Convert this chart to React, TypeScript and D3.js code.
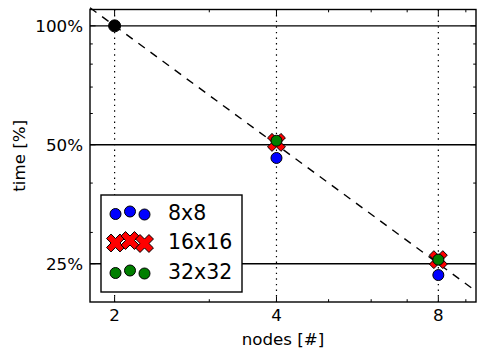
import React from 'react';
import * as d3 from 'd3';

// measured values (time relative to 2 nodes)
const nodes = [4, 8];
const time8x8 = [46.3, 23.4];
const time16x16 = [50.7, 25.6];
const time32x32 = [51.2, 25.6];
const seriesNames = ['8x8', '16x16', '32x32'];
const seriesColors = ['#0000ff', '#ff0000', '#007f00'];

const baseNodes = [2];
const baseTime = [100];

// ideal scaling line endpoints
const idealNodes = [1.8, 9.4];
const idealTime = [111.1, 21.3];

const xTicks = [2, 4, 8];
const xMinorTicks = [3, 5, 6, 7, 9];
const yTicks = [25, 50, 100];
const yTickLabels = ['25%', '50%', '100%'];
const yMinorTicks = [30, 40, 60, 70, 80, 90];

const W = 486;
const H = 360;
const plot = { left: 90, right: 476, top: 9.5, bottom: 302 };
const font = 'DejaVu Sans, sans-serif';

const x = d3.scaleLog().base(2).domain([1.8, 9.4]).range([plot.left, plot.right]);
const y = d3.scaleLog().domain([20, 110]).range([plot.bottom, plot.top]);

// filled "X" marker, like matplotlib's 'X'
function xMarker(s: number) {
  const a = s / 3;
  const pts = [[-a, -s], [a, -s], [a, -a], [s, -a], [s, a], [a, a], [a, s], [-a, s], [-a, a], [-s, a], [-s, -a], [-a, -a]];
  const c = Math.SQRT1_2;
  const rot = pts.map(([px, py]) => [(px - py) * c, (px + py) * c] as [number, number]);
  return d3.line()(rot) + 'Z';
}

function Marker({ kind, cx, cy }: { kind: number; cx: number; cy: number }) {
  if (kind === 1) {
    return <path d={xMarker(9.5)} transform={`translate(${cx},${cy})`} fill={seriesColors[1]} stroke="#000" strokeWidth={1} />;
  }
  return <circle cx={cx} cy={cy} r={5.5} fill={seriesColors[kind]} stroke="#000" strokeWidth={1} />;
}

export default function App() {
  const series = [time8x8, time16x16, time32x32];
  const ideal = d3.line<number>().x((d, i) => x(idealNodes[i])).y(d => y(d))(idealTime) as string;

  const legend = { x: 101, y: 195, w: 141, h: 97 };
  const legendRows = [213, 242, 272];
  const legendMarkerX = [115.5, 130, 144.5];
  const legendYOffsets = [1, -1.5, 1.5];

  return (
    <svg width={W} height={H} style={{ position: 'absolute', left: 0, top: 0, background: '#fff' }} fontFamily={font}>
      <rect x={0} y={0} width={W} height={H} fill="#fff" />

      {/* grid */}
      {xTicks.map(t => (
        <line key={'gx' + t} x1={x(t)} x2={x(t)} y1={plot.top} y2={plot.bottom} stroke="#000" strokeWidth={1.2} strokeDasharray="1.4,4.2" />
      ))}
      {yTicks.map(t => (
        <line key={'gy' + t} x1={plot.left} x2={plot.right} y1={y(t)} y2={y(t)} stroke="#000" strokeWidth={1.4} />
      ))}

      {/* ideal scaling */}
      <path d={ideal} fill="none" stroke="#000" strokeWidth={1.4} strokeDasharray="8,7" />

      {/* baseline point */}
      {baseNodes.map((n, i) => (
        <circle key={'b' + i} cx={x(n)} cy={y(baseTime[i])} r={6} fill="#000" stroke="#000" />
      ))}

      {/* series */}
      {series.map((vals, k) =>
        vals.map((v, i) => <Marker key={k + '-' + i} kind={k} cx={x(nodes[i])} cy={y(v)} />)
      )}

      {/* ticks */}
      {xTicks.map(t => (
        <g key={'tx' + t}>
          <line x1={x(t)} x2={x(t)} y1={plot.bottom} y2={plot.bottom - 5.6} stroke="#000" strokeWidth={1} />
          <line x1={x(t)} x2={x(t)} y1={plot.top} y2={plot.top + 5.6} stroke="#000" strokeWidth={1} />
          <text x={x(t)} y={321} textAnchor="middle" fontSize={16.7}>{t}</text>
        </g>
      ))}
      {xMinorTicks.map(t => (
        <g key={'mx' + t}>
          <line x1={x(t)} x2={x(t)} y1={plot.bottom} y2={plot.bottom - 2.8} stroke="#000" strokeWidth={1} />
          <line x1={x(t)} x2={x(t)} y1={plot.top} y2={plot.top + 2.8} stroke="#000" strokeWidth={1} />
        </g>
      ))}
      {yTicks.map((t, i) => (
        <g key={'ty' + t}>
          <line x1={plot.left} x2={plot.left + 5.6} y1={y(t)} y2={y(t)} stroke="#000" strokeWidth={1} />
          <line x1={plot.right} x2={plot.right - 5.6} y1={y(t)} y2={y(t)} stroke="#000" strokeWidth={1} />
          <text x={83} y={y(t) + 6} textAnchor="end" fontSize={16.7}>{yTickLabels[i]}</text>
        </g>
      ))}
      {yMinorTicks.map(t => (
        <g key={'my' + t}>
          <line x1={plot.left} x2={plot.left + 2.8} y1={y(t)} y2={y(t)} stroke="#000" strokeWidth={1} />
          <line x1={plot.right} x2={plot.right - 2.8} y1={y(t)} y2={y(t)} stroke="#000" strokeWidth={1} />
        </g>
      ))}

      {/* frame */}
      <rect x={plot.left} y={plot.top} width={plot.right - plot.left} height={plot.bottom - plot.top} fill="none" stroke="#000" strokeWidth={1.4} />

      {/* axis labels */}
      <text x={(plot.left + plot.right) / 2} y={345} textAnchor="middle" fontSize={16.7}>nodes [#]</text>
      <text transform={`translate(25,${(plot.top + plot.bottom) / 2}) rotate(-90)`} textAnchor="middle" fontSize={16.7}>time [%]</text>

      {/* legend */}
      <rect x={legend.x} y={legend.y} width={legend.w} height={legend.h} fill="#fff" stroke="#000" strokeWidth={1.4} />
      {seriesNames.map((name, k) => (
        <g key={'lg' + k}>
          {legendMarkerX.map((mx, j) => (
            <Marker key={j} kind={k} cx={mx} cy={legendRows[k] + legendYOffsets[j]} />
          ))}
          <text x={168} y={legendRows[k] + 7} fontSize={20.5}>{name}</text>
        </g>
      ))}
    </svg>
  );
}
